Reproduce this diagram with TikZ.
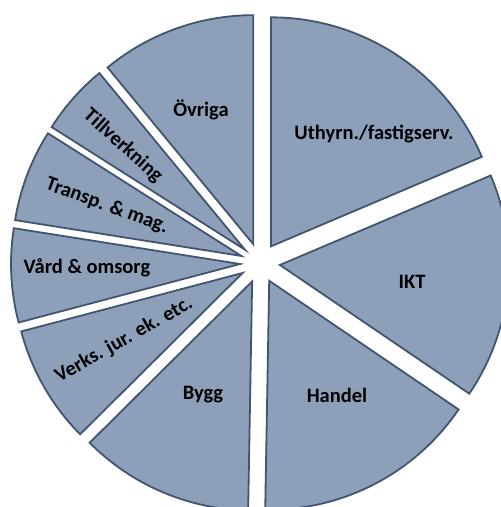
\documentclass[tikz,border=0pt]{standalone}
\usepackage{fontspec}
\setmainfont{Carlito}
\definecolor{slicefill}{RGB}{142,160,185}
\definecolor{sliceline}{RGB}{65,85,110}
\tikzset{
  slicestyle/.style={fill=slicefill,draw=sliceline,line width=1.8pt},
  lab/.style={font=\bfseries\fontsize{20.5}{24}\selectfont,text=black,inner sep=0pt}
}
\newcommand{\pieslice}[3]{%
  \pgfmathsetmacro{\mid}{(#1+#2)/2}%
  \draw[slicestyle] ($(C)+(\mid:20)$) coordinate (#3) -- ++(#1:229) arc[start angle=#1,end angle=#2,radius=229] -- cycle;%
}
\usetikzlibrary{calc}
\begin{document}
\begin{tikzpicture}[x=1pt,y=1pt]
\useasboundingbox (0,-507) rectangle (501,0);
\clip (0,-507) rectangle (501,0);
\coordinate (C) at (260,-263);
\pieslice{23}{90}{sU}
\pieslice{90}{129.5}{sO}
\pieslice{129.5}{147.6}{sTi}
\pieslice{147.6}{171}{sTr}
\pieslice{171}{194.8}{sV}
\pieslice{194.8}{224.8}{sVe}
\pieslice{224.8}{269}{sB}
\pieslice{269}{325.8}{sH}
\pieslice{325.8}{383}{sI}
\node[lab] (lU) at (374,-134) {Uthyrn./fastigserv.};
\node[lab] (lI) at (412,-282) {IKT};
\node[lab] (lH) at (337,-395) {Handel};
\node[lab] (lB) at (203,-395) {Bygg};
\node[lab,rotate=29.5] (lVe) at (124,-340) {Verks. jur. ek. etc.};
\node[lab] (lV) at (87,-268) {Vård \& omsorg};
\node[lab,rotate=-20] (lTr) at (107,-206) {Transp. \& mag.};
\node[lab,rotate=-42] (lTi) at (123,-146) {Tillverkning};
\node[lab] (lO) at (201,-110) {Övriga};
\end{tikzpicture}
\end{document}
